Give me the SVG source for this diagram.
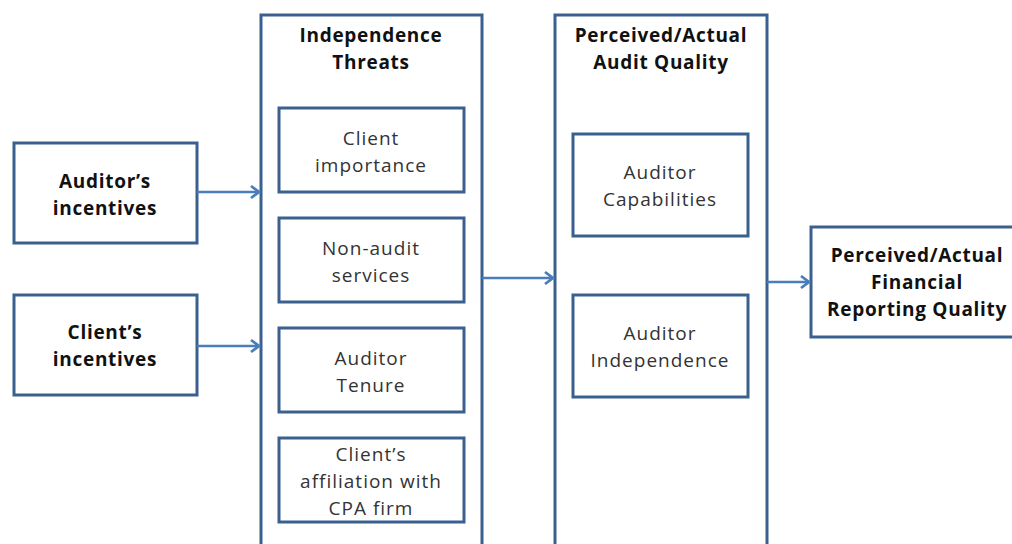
<svg xmlns="http://www.w3.org/2000/svg" width="1012" height="544" viewBox="0 0 1012 544">
<style>
.box{fill:#fff;stroke:#3a6090;stroke-width:3}
.big{fill:#fff;stroke:#3a6090;stroke-width:3}
.b{font-family:"Open Sans","Liberation Sans",Arial,sans-serif;font-weight:bold;font-size:19px;letter-spacing:0.7px;fill:#111;text-anchor:middle}
.r{font-family:"Open Sans","Liberation Sans",Arial,sans-serif;font-size:19px;letter-spacing:1px;fill:#333;text-anchor:middle}
.c{stroke:#4a7ebb;stroke-width:2.5;fill:none}
</style>
<defs>
<marker id="ah" markerWidth="14" markerHeight="16" refX="10" refY="8" orient="auto" markerUnits="userSpaceOnUse">
<polyline points="2,2 10,8 2,14" fill="none" stroke="#4a7ebb" stroke-width="2.8"/>
</marker>
</defs>
<g id="threats">
<path class="big" d="M261,546 V15 H482 V546"/>
<text class="b" x="371" y="42">Independence</text>
<text class="b" x="371" y="69">Threats</text>
</g>
<g id="quality">
<path class="big" d="M555,546 V15 H767 V546"/>
<text class="b" x="661" y="42">Perceived/Actual</text>
<text class="b" x="661" y="69">Audit Quality</text>
</g>
<g id="auditor-incentives">
<rect class="box" x="14" y="143" width="183" height="100"/>
<text class="b" x="105" y="188">Auditor’s</text>
<text class="b" x="105" y="215">incentives</text>
</g>
<g id="client-incentives">
<rect class="box" x="14" y="295" width="183" height="100"/>
<text class="b" x="105" y="339">Client’s</text>
<text class="b" x="105" y="366">incentives</text>
</g>
<g id="client-importance">
<rect class="box" x="279" y="108" width="185" height="84"/>
<text class="r" x="371" y="145">Client</text>
<text class="r" x="371" y="172">importance</text>
</g>
<g id="non-audit">
<rect class="box" x="279" y="218" width="185" height="84"/>
<text class="r" x="371" y="255">Non-audit</text>
<text class="r" x="371" y="282">services</text>
</g>
<g id="tenure">
<rect class="box" x="279" y="328" width="185" height="84"/>
<text class="r" x="371" y="365">Auditor</text>
<text class="r" x="371" y="392">Tenure</text>
</g>
<g id="affiliation">
<rect class="box" x="279" y="438" width="185" height="84"/>
<text class="r" x="371" y="461">Client’s</text>
<text class="r" x="371" y="488">affiliation with</text>
<text class="r" x="371" y="515">CPA firm</text>
</g>
<g id="capabilities">
<rect class="box" x="573" y="134" width="175" height="102"/>
<text class="r" x="660" y="179">Auditor</text>
<text class="r" x="660" y="206">Capabilities</text>
</g>
<g id="independence">
<rect class="box" x="573" y="295" width="175" height="102"/>
<text class="r" x="660" y="340">Auditor</text>
<text class="r" x="660" y="367">Independence</text>
</g>
<g id="frq">
<rect class="box" x="811" y="227" width="210" height="110"/>
<text class="b" x="917" y="262">Perceived/Actual</text>
<text class="b" x="917" y="289">Financial</text>
<text class="b" x="917" y="316">Reporting Quality</text>
</g>
<g id="connectors">
<line class="c" x1="197" y1="192" x2="259" y2="192" marker-end="url(#ah)"/>
<line class="c" x1="197" y1="346" x2="259" y2="346" marker-end="url(#ah)"/>
<line class="c" x1="482" y1="278" x2="553" y2="278" marker-end="url(#ah)"/>
<line class="c" x1="767" y1="282" x2="809" y2="282" marker-end="url(#ah)"/>
</g>
</svg>
